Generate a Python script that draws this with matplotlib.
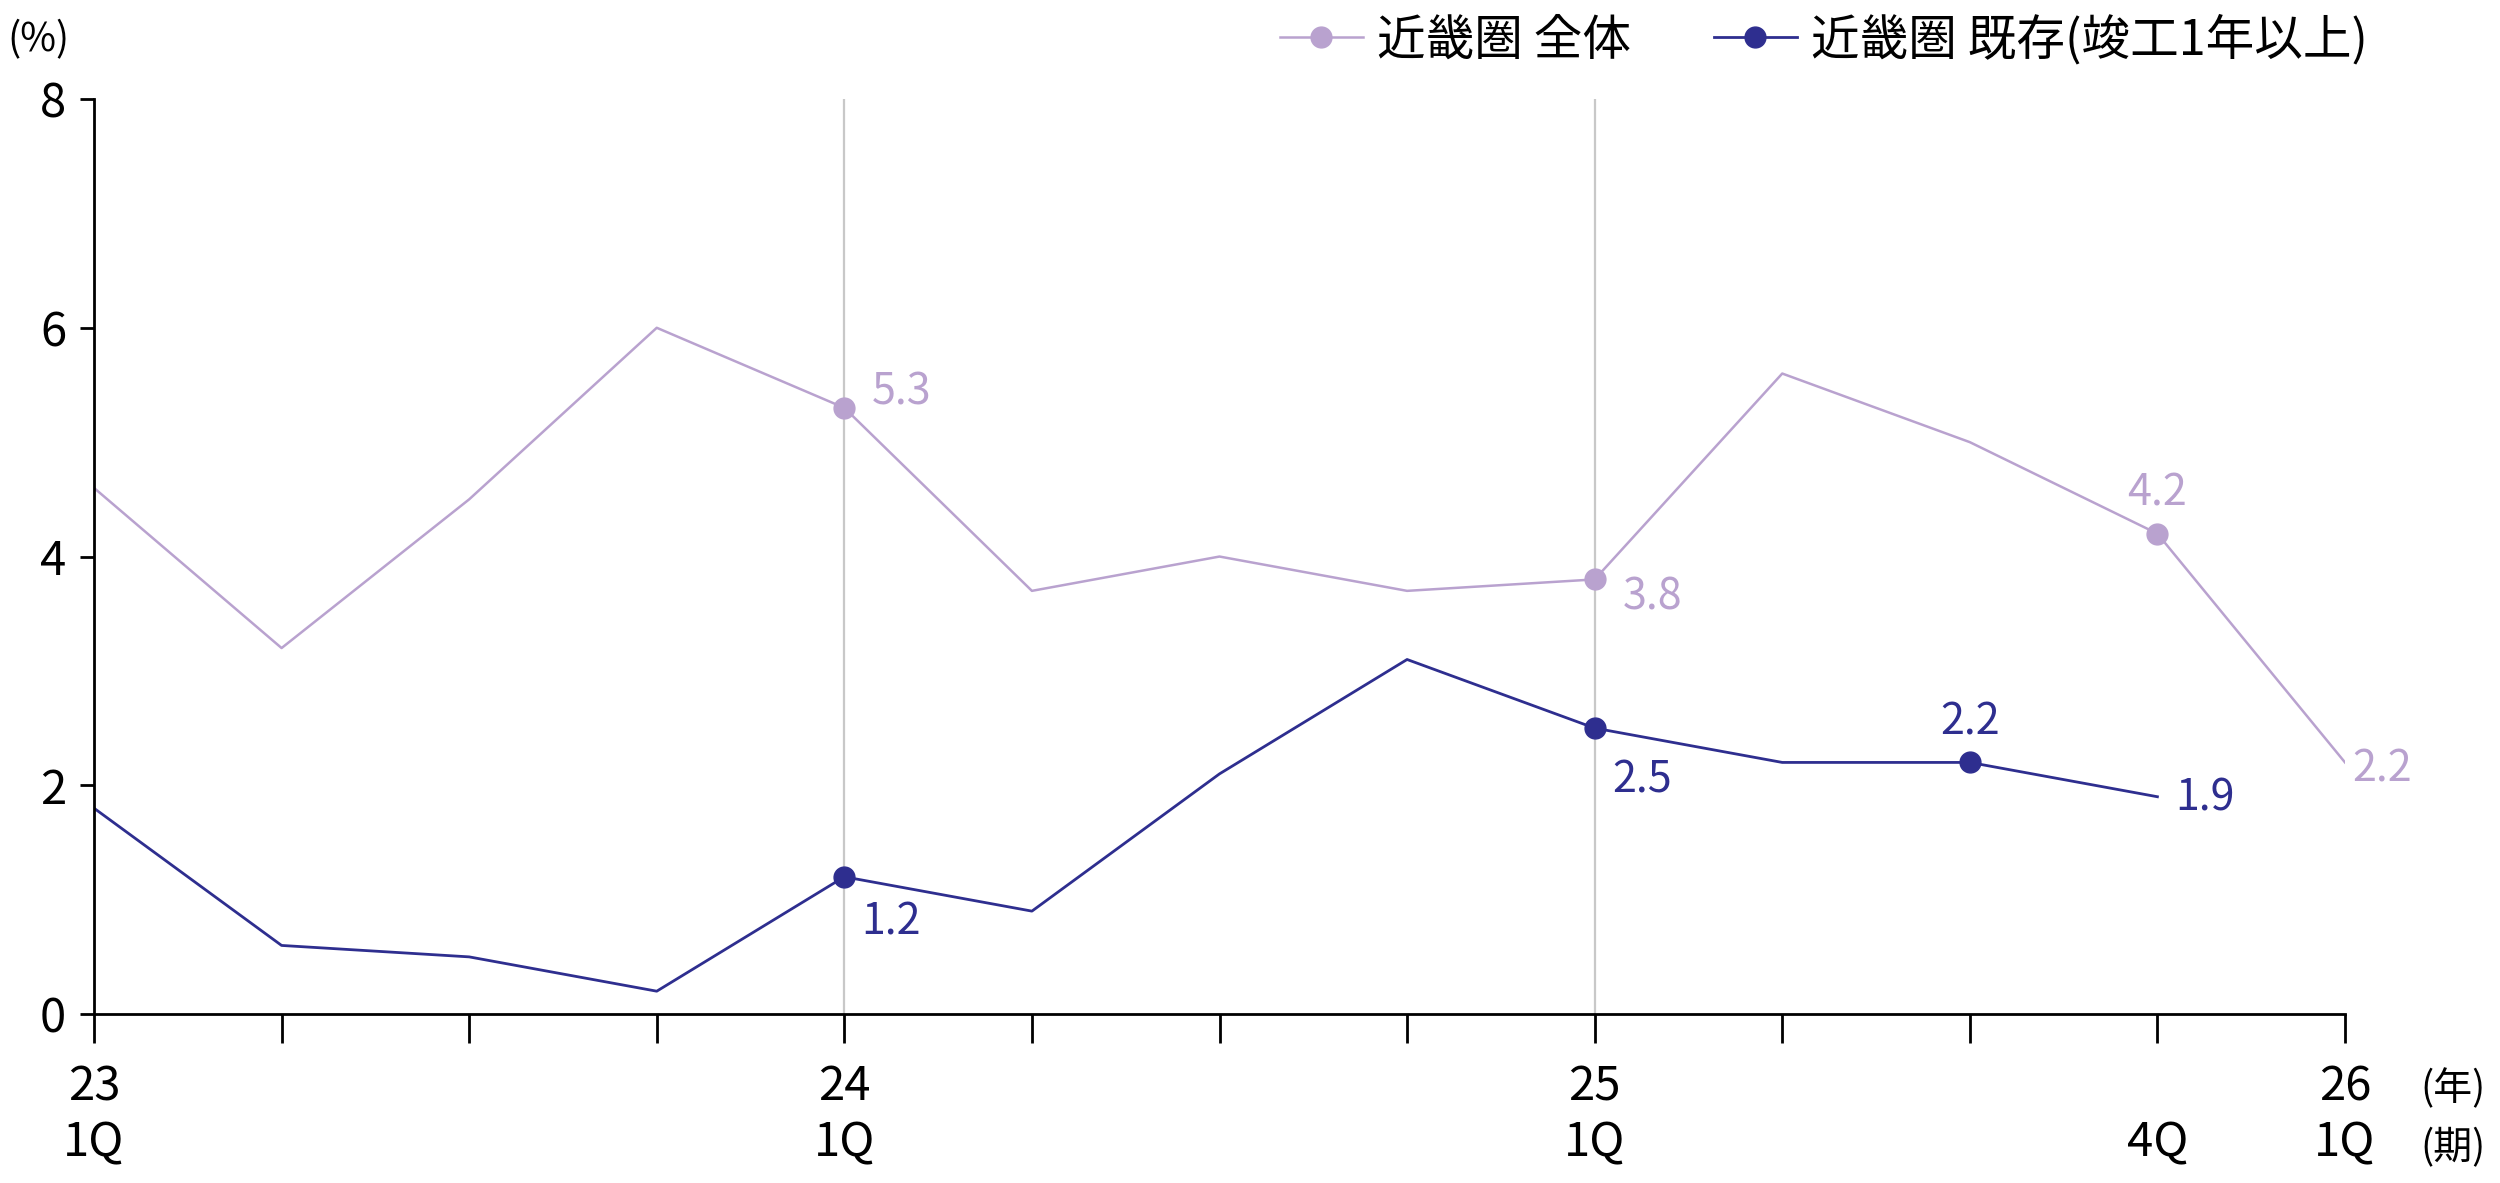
import matplotlib.pyplot as plt

plt.rcParams['font.family'] = ['Noto Sans CJK JP', 'DejaVu Sans']

# 四半期 (23年1Q ～ 26年1Q)
quarters = list(range(13))
tick_labels = ['23\n1Q', '', '', '', '24\n1Q', '', '', '', '25\n1Q', '', '', '\n4Q', '26\n1Q']

# 空室率 (%)
kinki_all = [4.6, 3.2, 4.5, 6.0, 5.3, 3.7, 4.0, 3.7, 3.8, 5.6, 5.0, 4.2, 2.2]
kinki_exist = [1.8, 0.6, 0.5, 0.2, 1.2, 0.9, 2.1, 3.1, 2.5, 2.2, 2.2, 1.9]

# 数値ラベルを付ける点
all_marks = [4, 8, 11]
exist_marks = [4, 8, 10]

c_all = '#b9a2cf'
c_exist = '#2e2e8f'

fig = plt.figure(figsize=(25, 11.83), dpi=100)
ax = fig.add_axes([0.0376, 0.1428, 0.9004, 0.7735])

# 年の区切り線
for x in [4, 8]:
    ax.axvline(x, color='#c8c8c8', lw=1.6, zorder=1)

ax.plot(quarters, kinki_all, color=c_all, lw=1.8, zorder=3,
        marker='o', markersize=15, markevery=all_marks, label='近畿圏 全体')
ax.plot(quarters[:len(kinki_exist)], kinki_exist, color=c_exist, lw=2.0, zorder=4,
        marker='o', markersize=15, markevery=exist_marks,
        label='近畿圏 既存(竣工1年以上)')

# 数値ラベル
fs = 31
def lab(x, y, color, dx, dy, ha='left'):
    ax.annotate(f'{y:.1f}', (x, y), xytext=(dx, dy), textcoords='offset points',
                ha=ha, va='center', color=color, fontsize=fs)

lab(4, kinki_all[4], c_all, 20, 11)
lab(8, kinki_all[8], c_all, 20, -13)
lab(11, kinki_all[11], c_all, 0, 29, ha='center')
lab(12, kinki_all[12], c_all, 5, -5)
lab(4, kinki_exist[4], c_exist, 12, -33)
lab(8, kinki_exist[8], c_exist, 13, -38)
lab(10, kinki_exist[10], c_exist, 0, 29, ha='center')
lab(11, kinki_exist[11], c_exist, 13, -1)

ax.set_xlim(0, 12)
ax.set_ylim(0, 8)
ax.set_yticks([0, 2, 4, 6, 8])
ax.set_xticks(quarters)
ax.set_xticklabels(tick_labels, linespacing=1.22)
ax.tick_params(axis='y', labelsize=34, length=10, width=2, pad=10)
ax.tick_params(axis='x', labelsize=34, length=21, width=2, pad=14)

for s in ['top', 'right']:
    ax.spines[s].set_visible(False)
for s in ['left', 'bottom']:
    ax.spines[s].set_linewidth(2)
ax.spines['left'].set_zorder(5)
ax.spines['bottom'].set_zorder(5)

fig.text(0.003, 0.966, '(%)', fontsize=28, va='center', ha='left')
fig.text(0.968, 0.0795, '(年)', fontsize=28, va='center', ha='left')
fig.text(0.968, 0.0296, '(期)', fontsize=28, va='center', ha='left')

fig.legend(loc='center left', bbox_to_anchor=(0.512, 0.966), ncol=2, frameon=False,
           fontsize=35, handlelength=1.7, handletextpad=0.3, columnspacing=1.7,
           borderpad=0, borderaxespad=0, markerscale=1.0)

fig.savefig('out.png', dpi=100)
